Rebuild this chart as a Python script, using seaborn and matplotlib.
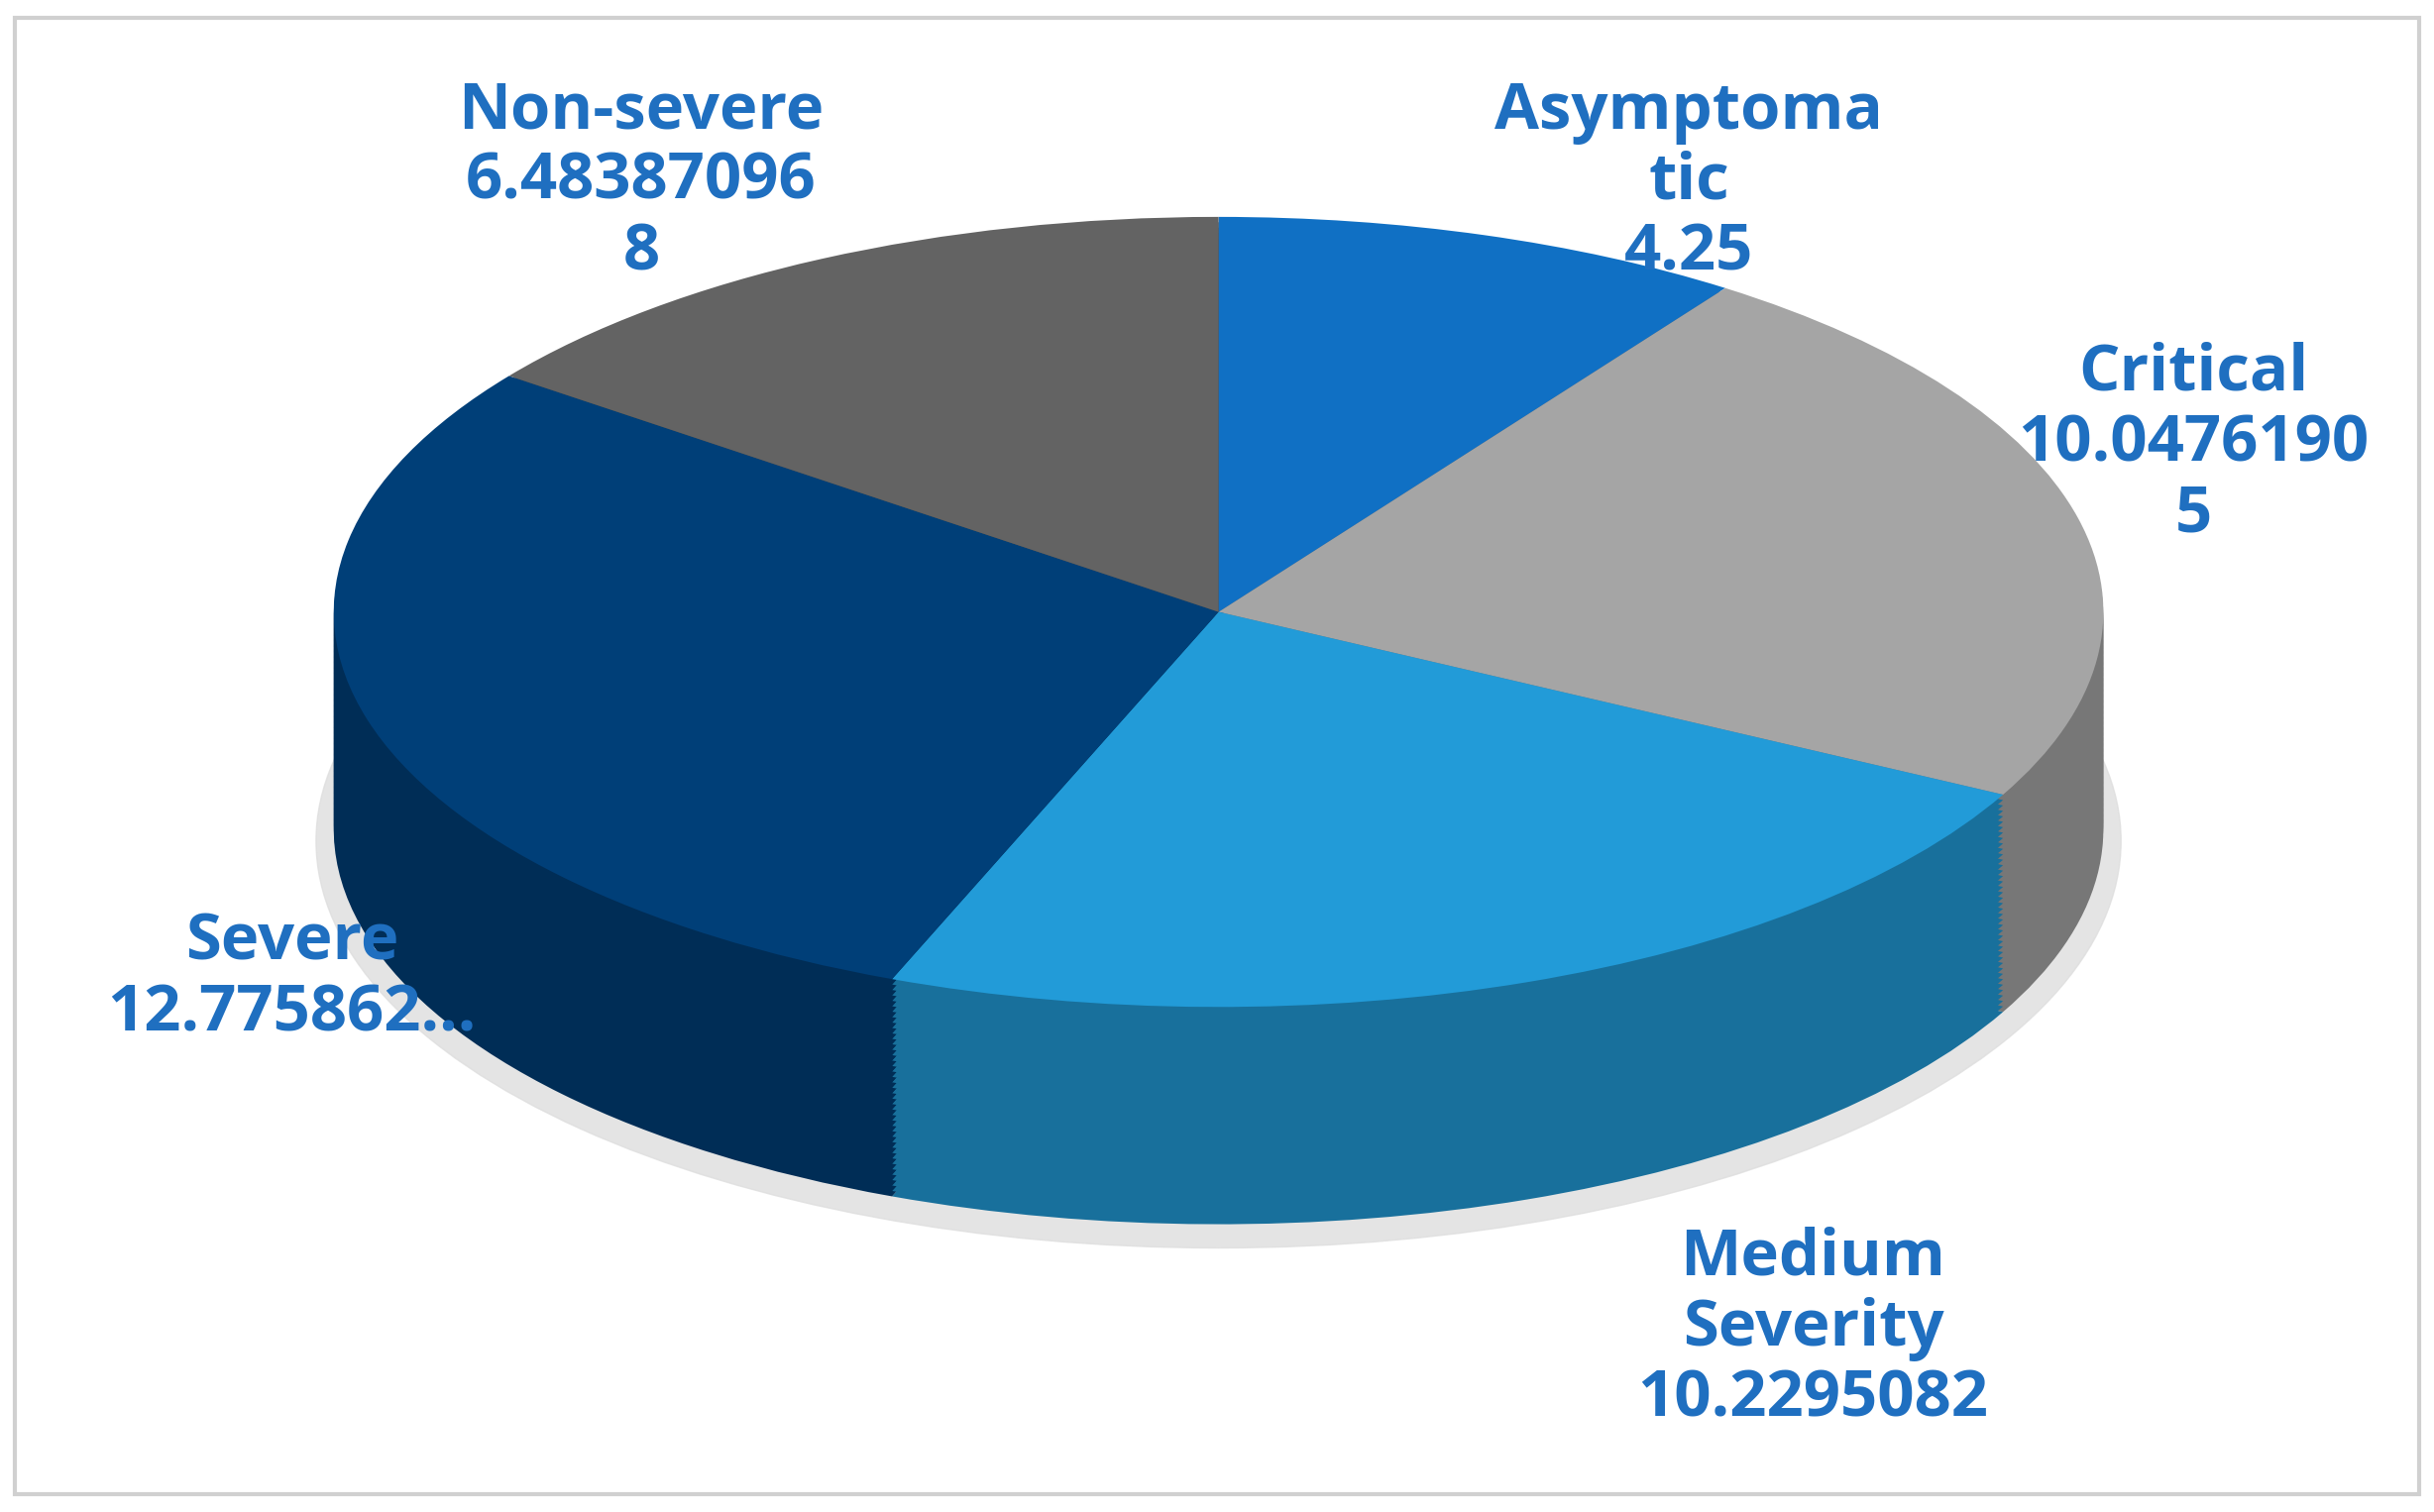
import matplotlib
matplotlib.use("Agg")
import matplotlib.pyplot as plt
import seaborn as sns
import numpy as np
from matplotlib.colors import to_rgb
from matplotlib.patches import Ellipse, Rectangle

sns.set_theme(style="white")
plt.rcParams['font.family'] = ['Open Sans', 'DejaVu Sans']

categories = ["Asymptomatic", "Critical", "Medium Severity", "Severe", "Non-severe"]
values = [4.25, 10.04761905, 10.2295082, 12.775862, 6.483870968]
label_texts = ["Asymptoma\ntic\n4.25", "Critical\n10.0476190\n5", "Medium\nSeverity\n10.2295082",
               "Severe\n12.775862...", "Non-severe\n6.48387096\n8"]
colors = ["#1070C4", "#A5A5A5", "#229BD8", "#003F78", "#636363"]

W, H = 1568, 976
fig = plt.figure(figsize=(24.56, 15.26), dpi=100)
ax = fig.add_axes([0, 0, 1, 1])
unit_x, unit_y = 570, 255
cy_top = 395
cx = 785

def set_lims():
    ax.set_xlim(-cx / unit_x, (W - cx) / unit_x)
    ax.set_ylim(-(H - cy_top) / unit_y, cy_top / unit_y)
    ax.set_aspect('auto')
    ax.set_axis_off()

depth = 0.55
ax.add_patch(Ellipse((0.0, -depth - 0.03), 2.04, 2.06, color="#dedede", alpha=0.8, zorder=0))
dark = [tuple(np.array(to_rgb(c)) * 0.72) for c in colors]
n = 40
for k in range(n, 0, -1):
    off = -depth * k / n
    ax.pie(values, colors=dark, startangle=90, counterclock=False, center=(0, off),
           radius=1.0, frame=True, wedgeprops=dict(linewidth=0))
ax.pie(values, colors=colors, startangle=90, counterclock=False, center=(0, 0),
       radius=1.0, frame=True, wedgeprops=dict(linewidth=0))
set_lims()

pos = [(1088, 118), (1413, 287), (1168, 858), (188, 632), (413, 118)]
for (px, py), t in zip(pos, label_texts):
    fig.text(px / W, 1 - py / H, t, ha="center", va="center", fontsize=47, fontweight="bold",
             color="#1F6FC0", linespacing=1.13)

fig.patches.append(Rectangle((0.006, 0.012), 0.988, 0.976, transform=fig.transFigure,
                             fill=False, edgecolor="#d0d0d0", linewidth=3))
fig.savefig("out.png", dpi=100)
